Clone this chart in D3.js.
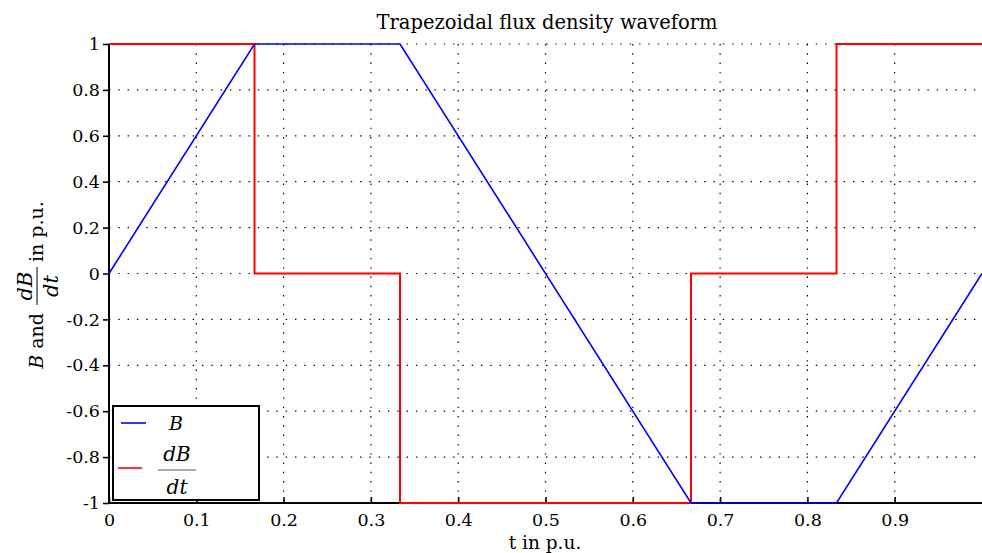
<!DOCTYPE html>
<html lang="en">
<head>
<meta charset="UTF-8">
<script src="https://d3js.org/d3.v7.min.js"></script>
<title>Trapezoidal flux density waveform</title>
<style>
  body { margin: 0; background: #fff; }
  svg, svg text { font-family: 'DejaVu Serif', 'Liberation Serif', serif; }
  .tick text { font-size: 17.5px; fill: #000; }
  .grid line { stroke: #000; stroke-width: 1.2; stroke-dasharray: 1.4,7.9; }
</style>
</head>
<body>
<svg id="canvas"></svg>
<script>
// data
let bT = [0, 1/6, 1/3, 2/3, 5/6, 1]
let bV = [0, 1, 1, -1, -1, 0]
let dT = [0, 1/6, 1/6, 1/3, 1/3, 2/3, 2/3, 5/6, 5/6, 1]
let dV = [1, 1, 0, 0, -1, -1, 0, 0, 1, 1]
let xTicks = [0, 0.1, 0.2, 0.3, 0.4, 0.5, 0.6, 0.7, 0.8, 0.9]
let yTicks = [-1, -0.8, -0.6, -0.4, -0.2, 0, 0.2, 0.4, 0.6, 0.8, 1]

let width = 982
let height = 553
let padLeft = 109, padRight = 982, padTop = 44, padBottom = 503

let svg = d3.select('#canvas').attr('width', width).attr('height', height)

let xScale = d3.scaleLinear().domain([0, 1]).range([padLeft, padRight])
let yScale = d3.scaleLinear().domain([-1, 1]).range([padBottom, padTop])

// grid
let grid = svg.append('g').attr('class', 'grid')
grid.selectAll('.gx').data(xTicks.filter(d => d > 0)).enter().append('line')
    .attr('x1', d => xScale(d)).attr('x2', d => xScale(d))
    .attr('y1', padTop).attr('y2', padBottom)
grid.selectAll('.gy').data(yTicks.filter(d => d > -1)).enter().append('line')
    .attr('x1', padLeft).attr('x2', padRight)
    .attr('y1', d => yScale(d)).attr('y2', d => yScale(d))

// axes
let fmt = d => String(Math.round(d * 10) / 10)
let xAxis = d3.axisBottom(xScale).tickValues(xTicks).tickSize(-6).tickPadding(8).tickFormat(fmt)
let yAxis = d3.axisLeft(yScale).tickValues(yTicks).tickSize(6).tickPadding(3).tickFormat(fmt)

let gx = svg.append('g').attr('transform', 'translate(0,' + padBottom + ')').call(xAxis)
let gy = svg.append('g').attr('transform', 'translate(' + padLeft + ',0)').call(yAxis)
svg.selectAll('.tick').select(function () { return this.parentNode }).attr('font-family', null).attr('font-size', null)
gx.select('.domain').attr('d', 'M' + padLeft + ',0H' + padRight).attr('stroke-width', 2)
gy.select('.domain').attr('d', 'M0,' + padTop + 'V' + padBottom).attr('stroke-width', 2)
svg.selectAll('.tick line').attr('stroke-width', 1.6)
gx.selectAll('.tick text').attr('dy', '0.85em')

// lines
let line = d3.line().x(d => xScale(d[0])).y(d => yScale(d[1]))
svg.append('path').datum(dT.map((t, i) => [t, dV[i]]))
    .attr('d', line).attr('fill', 'none').attr('stroke', '#ff0000').attr('stroke-width', 2)
svg.append('path').datum(bT.map((t, i) => [t, bV[i]]))
    .attr('d', line).attr('fill', 'none').attr('stroke', '#0000ff').attr('stroke-width', 1.6)

// title
svg.append('text').attr('x', 547).attr('y', 29).attr('text-anchor', 'middle')
    .attr('font-size', 19.5).text('Trapezoidal flux density waveform')

// x label
svg.append('text').attr('x', 545).attr('y', 549).attr('text-anchor', 'middle')
    .attr('font-size', 18.5).text('t in p.u.')

// y label
let yl = svg.append('g').attr('transform', 'translate(43,0) rotate(-90)')
let t1 = yl.append('text').attr('x', -313).attr('y', 0).attr('text-anchor', 'end').attr('font-size', 19)
t1.append('tspan').attr('font-style', 'italic').text('B')
t1.append('tspan').text(' and')
yl.append('text').attr('x', -286).attr('y', -11).attr('text-anchor', 'middle')
    .attr('font-size', 21).attr('font-style', 'italic').text('dB')
yl.append('line').attr('x1', -305).attr('x2', -267).attr('y1', -6).attr('y2', -6)
    .attr('stroke', '#000').attr('stroke-width', 1)
yl.append('text').attr('x', -286).attr('y', 15).attr('text-anchor', 'middle')
    .attr('font-size', 21).attr('font-style', 'italic').text('dt')
yl.append('text').attr('x', -262).attr('y', 0).attr('font-size', 19).text('in p.u.')

// legend
let lg = svg.append('g')
lg.append('rect').attr('x', 113).attr('y', 406).attr('width', 146).attr('height', 94)
    .attr('fill', '#fff').attr('stroke', '#000').attr('stroke-width', 2)
lg.append('line').attr('x1', 121).attr('x2', 146).attr('y1', 423).attr('y2', 423)
    .attr('stroke', '#0000ff').attr('stroke-width', 1.6)
lg.append('text').attr('x', 176).attr('y', 430).attr('text-anchor', 'middle')
    .attr('font-size', 19).attr('font-style', 'italic').text('B')
lg.append('line').attr('x1', 118).attr('x2', 142).attr('y1', 468).attr('y2', 468)
    .attr('stroke', '#ff0000').attr('stroke-width', 1.6)
lg.append('text').attr('x', 177).attr('y', 461).attr('text-anchor', 'middle')
    .attr('font-size', 20).attr('font-style', 'italic').text('dB')
lg.append('line').attr('x1', 158).attr('x2', 196).attr('y1', 470).attr('y2', 470)
    .attr('stroke', '#555').attr('stroke-width', 1)
lg.append('text').attr('x', 177).attr('y', 494).attr('text-anchor', 'middle')
    .attr('font-size', 20).attr('font-style', 'italic').text('dt')
</script>
</body>
</html>
